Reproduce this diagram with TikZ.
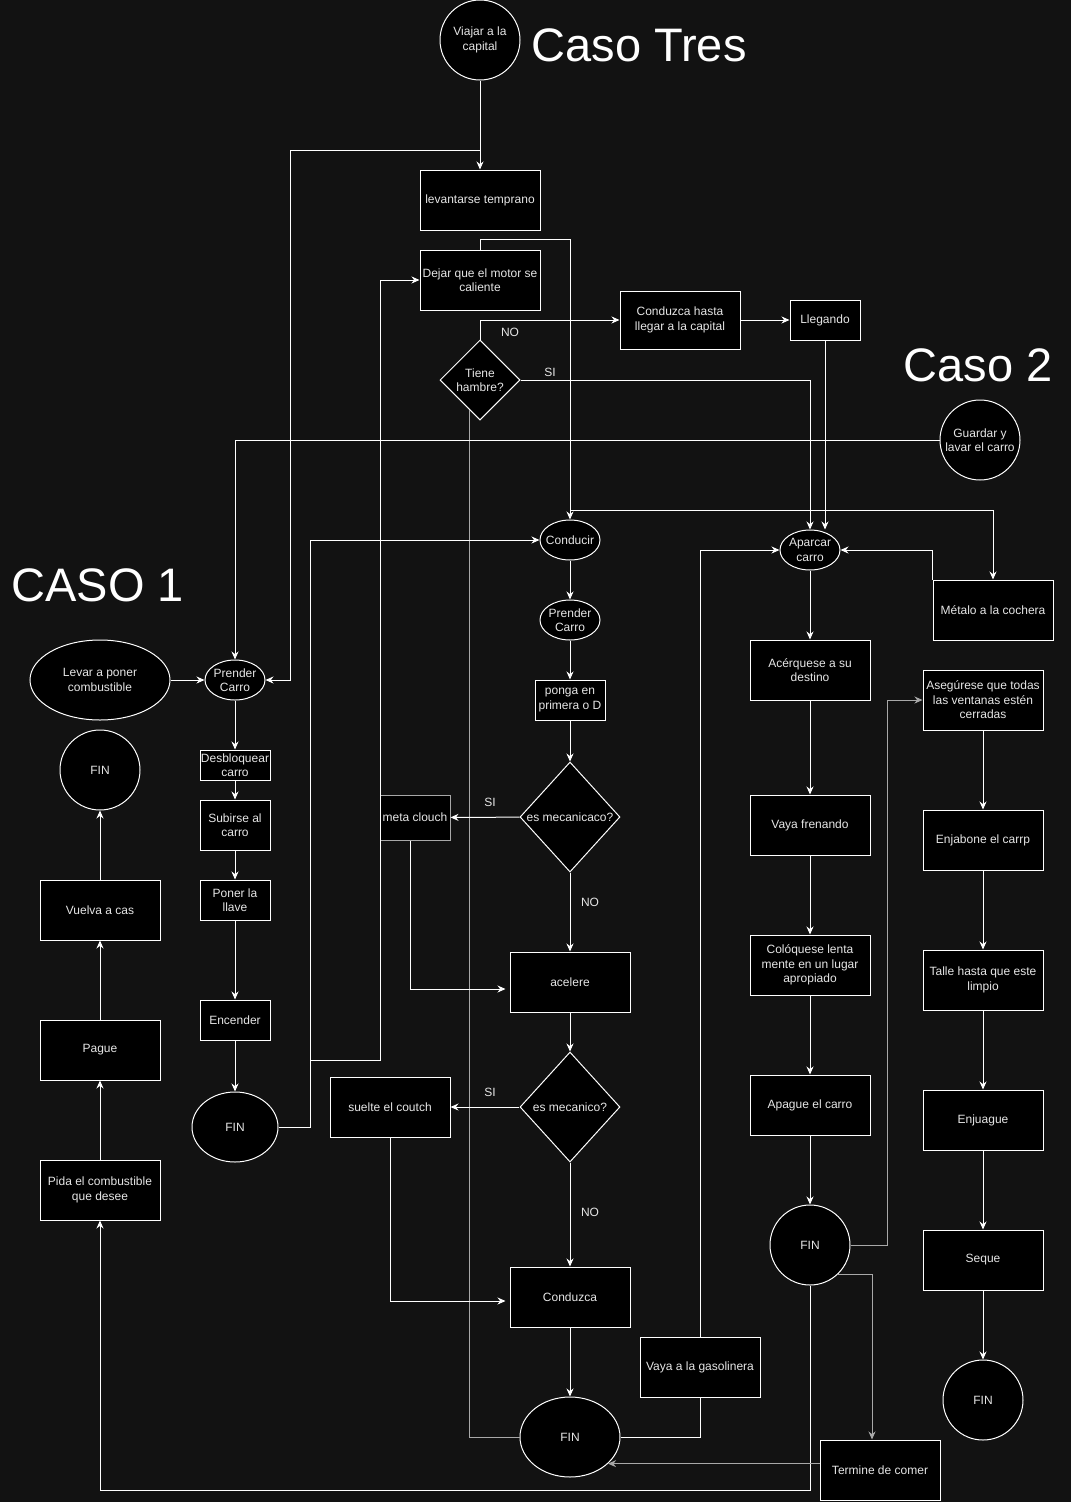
\documentclass[tikz,border=0pt]{standalone}
\usepackage{fontspec}
\setmainfont{Liberation Sans}
\usetikzlibrary{positioning, arrows.meta, calc, shapes.geometric}

\definecolor{bgdark}{HTML}{121212}
\definecolor{txtgray}{HTML}{E6E6E6}
\definecolor{wiregray}{HTML}{A8A8A8}

\newcommand{\boxfont}{\fontsize{12}{14.5}\selectfont}
\newcommand{\titlefont}{\fontsize{47}{50}\selectfont}

\tikzset{
    box/.style={rectangle, draw=white, fill=black, text=txtgray, font=\boxfont,
        align=center, inner sep=0pt, minimum width=120pt, minimum height=60pt},
    narrow/.style={box, minimum width=70pt, minimum height=40pt},
    oval/.style={ellipse, draw=white, fill=black, text=txtgray, font=\boxfont,
        align=center, inner sep=-6pt, minimum width=60pt, minimum height=40pt},
    term/.style={circle, draw=white, fill=black, text=txtgray, font=\boxfont,
        align=center, inner sep=0pt, minimum size=80pt},
    decision/.style={diamond, aspect=0.91, draw=white, fill=black, text=txtgray,
        font=\boxfont, align=center, inner sep=0pt, minimum width=100pt, minimum height=110pt},
    answer/.style={text=txtgray, font=\boxfont, inner sep=0pt},
    casetitle/.style={text=white, font=\titlefont, inner sep=0pt, anchor=west},
    arr/.style={-{Stealth[length=8pt,width=7pt]}}
}

\begin{document}
\begin{tikzpicture}[x=1pt, y=-1pt, line width=1pt, color=white]

    % Background and page size
    \fill[bgdark] (0,0) rectangle (1071,1502);
    \useasboundingbox (0,0) rectangle (1071,1502);

    % =========================================================================
    % TITLES
    % =========================================================================
    \node[casetitle] (tTres) at (531,45) {Caso Tres};
    \node[casetitle] (tDos)  at (903,365) {Caso 2};
    \node[casetitle] (tUno)  at (11,585) {CASO 1};

    % =========================================================================
    % CASO TRES: Top column
    % =========================================================================
    \node[term] (viajar) at (480,40) {Viajar a la\\capital};
    \node[box] (levantar) at (480,200) {levantarse temprano};
    \node[box] (dejar) at (480,280) {Dejar que el motor se\\caliente};
    \node[decision, aspect=1, minimum width=80pt, minimum height=80pt] (tiene) at (480,380) {Tiene\\hambre?};
    \node[box, minimum height=58pt] (conduzcaH) at (680,320) {Conduzca hasta\\llegar a la capital};
    \node[narrow] (llegando) at (825,320) {Llegando};

    % Middle column
    \node[oval] (conducir) at (570,540) {Conducir};
    \node[oval] (prenderB) at (570,620) {Prender\\Carro};
    \node[narrow] (ponga) at (570,700) {ponga en\\primera o D};
    \node[decision] (mecA) at (570,817) {es mecanicaco?};
    \node[narrow, draw=wiregray, minimum height=45pt] (meta) at (415,817.5) {meta clouch};
    \node[box] (acelere) at (570,982) {acelere};
    \node[decision] (mecB) at (570,1107) {es mecanico?};
    \node[box] (suelte) at (390,1107) {suelte el coutch};
    \node[box] (conduzca) at (570,1297) {Conduzca};
    \node[box] (gasolina) at (700,1367) {Vaya a la gasolinera};
    \node[oval, minimum width=100pt, minimum height=80pt] (finE) at (570,1437) {FIN};

    % Answer labels
    \node[answer] (noTiene) at (510,332) {NO};
    \node[answer] (siTiene) at (550,372) {SI};
    \node[answer] (siMecA) at (490,802) {SI};
    \node[answer] (noMecA) at (590,902) {NO};
    \node[answer] (siMecB) at (490,1092) {SI};
    \node[answer] (noMecB) at (590,1212) {NO};

    % =========================================================================
    % CASO 2: Parking and washing
    % =========================================================================
    \node[term] (guardar) at (980,440) {Guardar y\\lavar el carro};
    \node[oval] (aparcar) at (810,550) {Aparcar\\carro};
    \node[box] (metalo) at (993,610) {Métalo a la cochera};
    \node[box] (acerq) at (810,670) {Acérquese a su\\destino};
    \node[box] (frenando) at (810,825) {Vaya frenando};
    \node[box] (coloq) at (810,965) {Colóquese lenta\\mente en un lugar\\apropiado};
    \node[box] (apague) at (810,1105) {Apague el carro};
    \node[term] (finC) at (810,1245) {FIN};
    \node[box] (termine) at (880,1470) {Termine de comer};

    \node[box] (asegur) at (983,700) {Asegúrese que todas\\las ventanas estén\\cerradas};
    \node[box] (enjabone) at (983,840) {Enjabone el carrp};
    \node[box] (talle) at (983,980) {Talle hasta que este\\limpio};
    \node[box] (enjuague) at (983,1120) {Enjuague};
    \node[box] (seque) at (983,1260) {Seque};
    \node[term] (finD) at (983,1400) {FIN};

    % =========================================================================
    % CASO 1: Fuel
    % =========================================================================
    \node[oval, minimum width=140pt, minimum height=80pt] (levar) at (100,680) {Levar a poner\\combustible};
    \node[term] (finA) at (100,770) {FIN};
    \node[box] (vuelva) at (100,910) {Vuelva a cas};
    \node[box] (pague) at (100,1050) {Pague};
    \node[box] (pida) at (100,1190) {Pida el combustible\\que desee};

    \node[oval] (prenderA) at (235,680) {Prender\\Carro};
    \node[box, minimum width=70pt, minimum height=30pt] (desbloq) at (235,765) {Desbloquear\\carro};
    \node[box, minimum width=70pt, minimum height=50pt] (subirse) at (235,825) {Subirse al\\carro};
    \node[narrow] (poner) at (235,900) {Poner la\\llave};
    \node[narrow] (encender) at (235,1020) {Encender};
    \node[oval, minimum width=86pt, minimum height=70pt] (finB) at (235,1127) {FIN};

    % =========================================================================
    % CONNECTORS
    % =========================================================================
    % Top
    \draw[arr] (viajar) -- (levantar);
    \draw[arr] ($(viajar.south)+(0,70)$) -| (290,680) -- (prenderA.east);
    \draw[arr] (dejar.north) -- ++(0,-10) -| (conducir.north);
    \draw[arr] (570,510) -| (metalo.north);
    \draw[arr] (tiene.north) |- (conduzcaH.west);
    \draw[arr] (tiene.east) -| (aparcar.north);
    \draw[arr] (conduzcaH) -- (llegando);
    \draw[arr] (llegando.south) -- (llegando.south |- aparcar.north);
    \draw[wiregray] ($(tiene.south)!0.25!(tiene.west)$) |- (finE.west);
    \draw[arr] (guardar.west) -| (prenderA.north);

    % Returns from the left FIN
    \draw[arr] (finB.east) -- ++(32,0) |- (conducir.west);
    \draw[arr] (310,1060) -| (380,280) -- (dejar.west);

    % Caso 1 chains
    \draw[arr] (levar) -- (prenderA);
    \foreach \a/\b in {prenderA/desbloq, desbloq/subirse, subirse/poner, poner/encender, encender/finB}
        \draw[arr] (\a) -- (\b);
    \foreach \a/\b in {pida/pague, pague/vuelva, vuelva/finA}
        \draw[arr] (\a) -- (\b);

    % Middle column
    \foreach \a/\b in {conducir/prenderB, prenderB/ponga, ponga/mecA, mecA/acelere, acelere/mecB, mecB/conduzca, conduzca/finE}
        \draw[arr] (\a) -- (\b);
    \draw[arr] (mecA) -- (meta);
    \draw[arr] (mecB) -- (suelte);
    \draw[arr] ($(meta.south)+(-5,0)$) |- ($(acelere.west)+(-4,7)$);
    \draw[arr] (suelte.south) |- ($(conduzca.west)+(-4,4)$);
    \draw (finE.east) -| (gasolina.south);
    \draw[arr] (gasolina.north) |- (aparcar.west);

    % Caso 2 chains
    \draw[arr] (metalo.north west) |- (aparcar.east);
    \foreach \a/\b in {aparcar/acerq, acerq/frenando, frenando/coloq, coloq/apague, apague/finC}
        \draw[arr] (\a) -- (\b);
    \foreach \a/\b in {asegur/enjabone, enjabone/talle, talle/enjuague, enjuague/seque, seque/finD}
        \draw[arr] (\a) -- (\b);
    \draw[arr, wiregray] (finC.east) -- ++(37,0) |- (asegur.west);
    \draw[arr, wiregray] (finC.-46) -| ($(termine.north)+(-8,0)$);
    \draw[arr] (finC.south) -- ++(0,205) -| (pida.south);
    \draw[arr, wiregray] (termine.west |- finE.-35) -- (finE.-35);

\end{tikzpicture}
\end{document}
